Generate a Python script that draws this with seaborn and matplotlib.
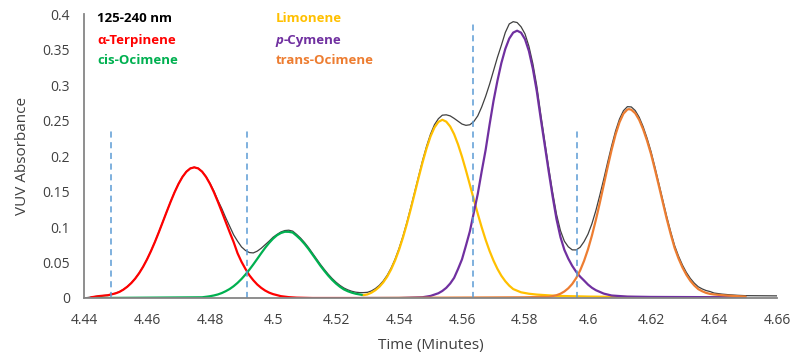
import seaborn as sns
import matplotlib.pyplot as plt
import pandas as pd

# --- values (time in minutes, VUV absorbance) ---
terp_t = [4.4418, 4.4425, 4.445, 4.4475, 4.450, 4.45125, 4.4525, 4.45375, 4.455, 4.45625, 4.4575,
          4.45875, 4.460, 4.46125, 4.4625, 4.46375, 4.465, 4.46625, 4.4675, 4.46875, 4.470, 4.47125,
          4.4725, 4.47375, 4.475, 4.47625, 4.4775, 4.47875, 4.480, 4.48125, 4.4825, 4.48375, 4.485,
          4.48625, 4.4875, 4.48875, 4.490, 4.49125, 4.4925, 4.49375, 4.495, 4.49625, 4.4975, 4.49875,
          4.500, 4.5025, 4.505, 4.5075, 4.5125, 4.528]
terp_v = [0.0, 0.0012, 0.0028, 0.0038, 0.0065, 0.0086, 0.0118, 0.0159, 0.0210, 0.0273, 0.0349,
          0.0439, 0.0543, 0.0660, 0.0788, 0.0926, 0.1070, 0.1215, 0.1356, 0.1489, 0.1607, 0.1705,
          0.1779, 0.1825, 0.1840, 0.1825, 0.1779, 0.1705, 0.1607, 0.1489, 0.1356, 0.1215, 0.1070,
          0.0926, 0.0788, 0.0630, 0.0510, 0.0410, 0.0320, 0.0250, 0.0190, 0.0143, 0.0105, 0.0076,
          0.0055, 0.0026, 0.0012, 0.0005, 0.0, 0.0]

cis_t = [4.444, 4.4775, 4.47925, 4.480, 4.48125, 4.4825, 4.48375, 4.485, 4.48625, 4.4875, 4.48875,
         4.490, 4.49125, 4.4925, 4.49375, 4.495, 4.49625, 4.4975, 4.49875, 4.500, 4.50125, 4.5025,
         4.50375, 4.505, 4.50625, 4.5075, 4.50875, 4.510, 4.51125, 4.5125, 4.51375, 4.515, 4.51625,
         4.5175, 4.51875, 4.520, 4.52125, 4.5225, 4.52375, 4.525, 4.52625, 4.5275, 4.5285]
cis_v = [0.0, 0.0010, 0.0020, 0.0025, 0.0036, 0.0050, 0.0070, 0.0096, 0.0127, 0.0166, 0.0213,
         0.0268, 0.0330, 0.0399, 0.0473, 0.0551, 0.0630, 0.0706, 0.0775, 0.0835, 0.0883, 0.0915,
         0.0933, 0.0932, 0.0922, 0.0876, 0.0824, 0.0762, 0.0692, 0.0614, 0.0536, 0.0457, 0.0385,
         0.0317, 0.0256, 0.0203, 0.0158, 0.0121, 0.0095, 0.0075, 0.0060, 0.0050, 0.0042]

limo_t = [4.52875, 4.530, 4.53125, 4.5325, 4.53375, 4.535, 4.53625, 4.5375, 4.53875, 4.540, 4.54125,
          4.5425, 4.54375, 4.545, 4.54625, 4.5475, 4.54875, 4.550, 4.55125, 4.5525, 4.55375, 4.555,
          4.55625, 4.5575, 4.55875, 4.560, 4.56125, 4.5625, 4.56375, 4.565, 4.56625, 4.5675, 4.56875,
          4.570, 4.57125, 4.5725, 4.57375, 4.575, 4.57625, 4.57875, 4.58125, 4.58375, 4.590, 4.600,
          4.620, 4.650]
limo_v = [0.0040, 0.0051, 0.0075, 0.0110, 0.0157, 0.0220, 0.0301, 0.0403, 0.0528, 0.0677, 0.0850,
          0.1044, 0.1255, 0.1476, 0.1699, 0.1913, 0.2108, 0.2275, 0.2401, 0.2480, 0.2510, 0.2484,
          0.2416, 0.2307, 0.2162, 0.1990, 0.1798, 0.1595, 0.1388, 0.1187, 0.0996, 0.0820, 0.0663,
          0.0527, 0.0410, 0.0313, 0.0236, 0.0174, 0.0126, 0.0080, 0.0060, 0.0048, 0.0030, 0.0020,
          0.0010, 0.0010]

cym_t = [4.528, 4.540, 4.5475, 4.550, 4.5525, 4.55375, 4.555, 4.55625, 4.5575, 4.55875, 4.560,
         4.56125, 4.5625, 4.56375, 4.565, 4.56625, 4.5675, 4.56875, 4.570, 4.57125, 4.5725, 4.57375,
         4.575, 4.57625, 4.5775, 4.57875, 4.580, 4.58125, 4.5825, 4.58375, 4.585, 4.58625, 4.5875,
         4.58875, 4.590, 4.59125, 4.5925, 4.59375, 4.595, 4.59625, 4.5975, 4.59875, 4.600, 4.60125,
         4.6025, 4.605, 4.6075, 4.6125, 4.620, 4.650]
cym_v = [0.0, 0.0, 0.0011, 0.0029, 0.0067, 0.0099, 0.0143, 0.0204, 0.0284, 0.0409, 0.0545,
         0.0738, 0.0939, 0.1202, 0.1465, 0.1783, 0.2085, 0.2441, 0.2775, 0.3060, 0.3310, 0.3509,
         0.3654, 0.3738, 0.3765, 0.3737, 0.3645, 0.3477, 0.3227, 0.2910, 0.2526, 0.2158, 0.1789,
         0.1435, 0.1111, 0.0859, 0.0678, 0.0554, 0.0452, 0.0369, 0.0301, 0.0246, 0.0189, 0.0144,
         0.0110, 0.0062, 0.0035, 0.0020, 0.0015, 0.0010]

trans_t = [4.528, 4.580, 4.585, 4.5875, 4.590, 4.59125, 4.5925, 4.59375, 4.595, 4.59625, 4.5975,
           4.59875, 4.600, 4.60125, 4.6025, 4.60375, 4.605, 4.60625, 4.6075, 4.60875, 4.610, 4.61125,
           4.6125, 4.613, 4.61375, 4.615, 4.61625, 4.6175, 4.61875, 4.620, 4.62125, 4.6225, 4.62375,
           4.625, 4.62625, 4.6275, 4.62875, 4.630, 4.63125, 4.6325, 4.63375, 4.635, 4.63625, 4.6375,
           4.63875, 4.640, 4.6425, 4.645, 4.650]
trans_v = [0.0, 0.0010, 0.0015, 0.0015, 0.0039, 0.0060, 0.0092, 0.0137, 0.0198, 0.0281, 0.0388,
           0.0523, 0.0686, 0.0880, 0.1100, 0.1340, 0.1592, 0.1846, 0.2087, 0.2302, 0.2475, 0.2596,
           0.2655, 0.2660, 0.2652, 0.2602, 0.2509, 0.2377, 0.2215, 0.2028, 0.1809, 0.1579, 0.1345,
           0.1113, 0.0900, 0.0705, 0.0555, 0.0429, 0.0325, 0.0241, 0.0176, 0.0125, 0.0095, 0.0072,
           0.0058, 0.0050, 0.0040, 0.0032, 0.0020]

total_t = [4.440, 4.4425, 4.445, 4.4475, 4.450, 4.45125, 4.4525, 4.45375, 4.455, 4.45625, 4.4575,
           4.45875, 4.460, 4.46125, 4.4625, 4.46375, 4.465, 4.46625, 4.4675, 4.46875, 4.470, 4.47125,
           4.4725, 4.47375, 4.475, 4.47625, 4.4775, 4.47875, 4.480, 4.48125, 4.4825, 4.48375, 4.485,
           4.48625, 4.4875, 4.48875, 4.490, 4.49125, 4.4925, 4.49375, 4.495, 4.49625, 4.4975, 4.49875,
           4.500, 4.50125, 4.5025, 4.50375, 4.505, 4.50625, 4.5075, 4.50875, 4.510, 4.51125, 4.5125,
           4.51375, 4.515, 4.51625, 4.5175, 4.51875, 4.520, 4.52125, 4.5225, 4.52375, 4.525, 4.52625,
           4.5275, 4.52875, 4.530, 4.53125, 4.5325, 4.53375, 4.535, 4.53625, 4.5375, 4.53875, 4.540,
           4.54125, 4.5425, 4.54375, 4.545, 4.54625, 4.5475, 4.54875, 4.550, 4.55125, 4.5525, 4.55375,
           4.555, 4.55625, 4.5575, 4.55875, 4.560, 4.56125, 4.5625, 4.56375, 4.565, 4.56625, 4.5675,
           4.56875, 4.570, 4.57125, 4.5725, 4.57375, 4.575, 4.57625, 4.5775, 4.57875, 4.580, 4.58125,
           4.5825, 4.58375, 4.585, 4.58625, 4.5875, 4.58875, 4.590, 4.59125, 4.5925, 4.59375, 4.595,
           4.59625, 4.5975, 4.59875, 4.600, 4.60125, 4.6025, 4.60375, 4.605, 4.60625, 4.6075, 4.60875,
           4.610, 4.61125, 4.6125, 4.61375, 4.615, 4.61625, 4.6175, 4.61875, 4.620, 4.62125, 4.6225,
           4.62375, 4.625, 4.62625, 4.6275, 4.62875, 4.630, 4.63125, 4.6325, 4.63375, 4.635, 4.63625,
           4.6375, 4.63875, 4.640, 4.6425, 4.645, 4.6475, 4.650, 4.660]
total_v = [0.0, 0.0015, 0.0030, 0.0040, 0.0067, 0.0088, 0.0120, 0.0161, 0.0212, 0.0275, 0.0351,
           0.0441, 0.0545, 0.0662, 0.0790, 0.0928, 0.1072, 0.1217, 0.1358, 0.1491, 0.1609, 0.1707,
           0.1781, 0.1827, 0.1842, 0.1828, 0.1783, 0.1710, 0.1615, 0.1505, 0.1375, 0.1260, 0.1130,
           0.1010, 0.0890, 0.0800, 0.0720, 0.0670, 0.0640, 0.0635, 0.0660, 0.0700, 0.0750, 0.0800,
           0.0855, 0.0895, 0.0930, 0.0950, 0.0955, 0.0942, 0.0896, 0.0844, 0.0782, 0.0712, 0.0634,
           0.0556, 0.0477, 0.0405, 0.0337, 0.0276, 0.0223, 0.0178, 0.0141, 0.0115, 0.0095, 0.0082,
           0.0076, 0.0076, 0.0080, 0.0100, 0.0133, 0.0178, 0.0240, 0.0320, 0.0422, 0.0547, 0.0697,
           0.0870, 0.1065, 0.1278, 0.1500, 0.1725, 0.1940, 0.2137, 0.2307, 0.2440, 0.2525, 0.2575,
           0.2580, 0.2565, 0.2530, 0.2490, 0.2450, 0.2432, 0.2440, 0.2485, 0.2565, 0.2690, 0.2840,
           0.3010, 0.3200, 0.3390, 0.3560, 0.3740, 0.3860, 0.3892, 0.3880, 0.3820, 0.3720, 0.3545,
           0.3300, 0.2985, 0.2590, 0.2213, 0.1842, 0.1495, 0.1180, 0.0950, 0.0800, 0.0721, 0.0678,
           0.0677, 0.0715, 0.0794, 0.0900, 0.1047, 0.1232, 0.1448, 0.1675, 0.1914, 0.2142, 0.2352,
           0.2521, 0.2638, 0.2695, 0.2691, 0.2640, 0.2546, 0.2414, 0.2251, 0.2064, 0.1844, 0.1614,
           0.1380, 0.1147, 0.0934, 0.0739, 0.0589, 0.0463, 0.0359, 0.0275, 0.0209, 0.0158, 0.0128,
           0.0105, 0.0091, 0.0070, 0.0055, 0.0045, 0.0038, 0.0033, 0.0030]

# dashed integration-window markers
window_t = [4.4486, 4.4919, 4.5635, 4.5965]
window_top = [0.236, 0.236, 0.388, 0.236]

series = {
    "125-240 nm": (total_t, total_v),
    "α-Terpinene": (terp_t, terp_v),
    "cis-Ocimene": (cis_t, cis_v),
    "Limonene": (limo_t, limo_v),
    "p-Cymene": (cym_t, cym_v),
    "trans-Ocimene": (trans_t, trans_v),
}
colors = {"125-240 nm": "#404040", "α-Terpinene": "#FF0000", "cis-Ocimene": "#00B050",
          "Limonene": "#FFC000", "p-Cymene": "#7030A0", "trans-Ocimene": "#ED7D31"}

frames = []
for name, (t, v) in series.items():
    frames.append(pd.DataFrame({"time": t, "abs": v, "compound": name}))
df = pd.concat(frames, ignore_index=True)

sns.set_style("white")
plt.rcParams['font.family'] = ['Open Sans', 'DejaVu Sans']

fig = plt.figure(figsize=(7.97, 3.62), dpi=100)
ax = fig.add_axes([0.1054, 0.1768, 0.8695, 0.7845])

for name in series:
    sub = df.loc[df["compound"] == name]
    sns.lineplot(ax=ax, data=sub, x="time", y="abs", color=colors[name],
                 linewidth=0.9 if name == "125-240 nm" else 1.6,
                 estimator=None, sort=False, legend=False)

ax.vlines(window_t, 0, window_top, colors="#5B9BD5", linestyles=(0, (4, 3)), linewidth=1.1)

ax.set_xlim(4.44, 4.66)
ax.set_ylim(0, 0.4)
xt = [4.44, 4.46, 4.48, 4.50, 4.52, 4.54, 4.56, 4.58, 4.60, 4.62, 4.64, 4.66]
yt = [0, 0.05, 0.1, 0.15, 0.2, 0.25, 0.3, 0.35, 0.4]
ax.set_xticks(xt)
ax.set_xticklabels([f"{x:g}" for x in xt])
ax.set_yticks(yt)
ax.set_yticklabels([f"{y:g}" for y in yt])
ax.tick_params(length=0, labelsize=10, labelcolor="#404040")
ax.tick_params(axis="x", pad=11)
ax.tick_params(axis="y", pad=10)
ax.set_xlabel("Time (Minutes)", fontsize=11, color="#404040", labelpad=7)
ax.set_ylabel("VUV Absorbance", fontsize=11, color="#404040", labelpad=9)
for s in ["top", "right"]:
    ax.spines[s].set_visible(False)
for s in ["left", "bottom"]:
    ax.spines[s].set_color("#868686")
    ax.spines[s].set_linewidth(1.3)

# coloured text legend
fs = 9.5
lab_kw = dict(transform=ax.transAxes, fontsize=fs, fontweight="bold", va="center", ha="left")
ax.text(0.019, 0.984, "125-240 nm", color="black", **lab_kw)
ax.text(0.019, 0.906, "α-Terpinene", color=colors["α-Terpinene"], **lab_kw)
ax.text(0.019, 0.836, "cis-Ocimene", color=colors["cis-Ocimene"], **lab_kw)
ax.text(0.276, 0.984, "Limonene", color=colors["Limonene"], **lab_kw)
tp = ax.text(0.276, 0.906, "p", color=colors["p-Cymene"], style="italic", **lab_kw)
ax.annotate("-Cymene", xy=(1, 0.5), xycoords=tp, va="center", ha="left", fontsize=fs,
            fontweight="bold", color=colors["p-Cymene"])
ax.text(0.276, 0.836, "trans-Ocimene", color=colors["trans-Ocimene"], **lab_kw)

plt.savefig("out.png", dpi=100)
plt.close('all')
